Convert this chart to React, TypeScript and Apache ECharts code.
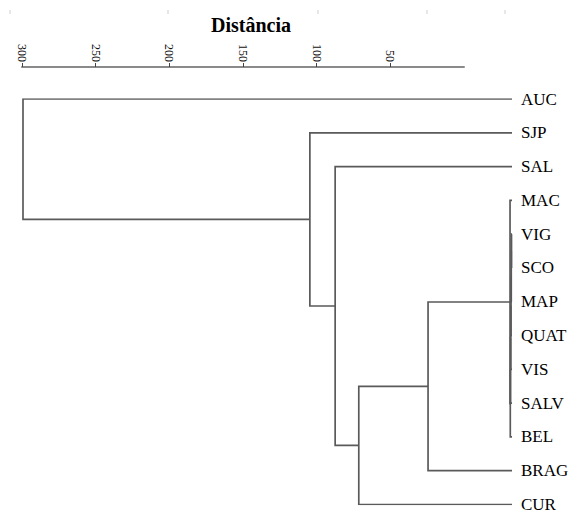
import React, { useEffect, useRef } from "react";
import * as echarts from "echarts";

// Leaves, top to bottom
const leaves = ["AUC", "SJP", "SAL", "MAC", "VIG", "SCO", "MAP", "QUAT", "VIS", "SALV", "BEL", "BRAG", "CUR"];

// Linkage: [childA, childB, height]; indices >= leaves.length refer to earlier merges
const merges: [number, number, number][] = [
  [4, 5, 0.3],
  [13, 6, 0.45],
  [14, 7, 0.6],
  [15, 8, 0.75],
  [16, 9, 0.9],
  [17, 10, 1.05],
  [3, 18, 1.2],
  [19, 11, 51.5],
  [20, 12, 94],
  [2, 21, 108.5],
  [1, 22, 124],
  [0, 23, 300],
];

// Distance axis ticks
const distanceTicks = [50, 100, 150, 200, 250, 300];
const titleText = "Distância";

function buildLinks() {
  const pos: { y: number; h: number }[] = leaves.map((_, i) => ({ y: i, h: 0 }));
  const links: { coords: number[][] }[] = [];
  merges.forEach(([a, b, h]) => {
    const ca = pos[a];
    const cb = pos[b];
    const y = (ca.y + cb.y) / 2;
    links.push({ coords: [[ca.h, ca.y], [h, ca.y], [h, cb.y], [cb.h, cb.y]] });
    pos.push({ y, h });
  });
  return links;
}

export default function App() {
  const ref = useRef<HTMLDivElement>(null);
  useEffect(() => {
    document.body.style.margin = "0";
    if (!ref.current) return;
    const chart = echarts.init(ref.current, null, { renderer: "svg" });
    const serif = "'Liberation Serif', 'Times New Roman', serif";
    const rulerXs = [10, 168, 318, 427, 505];
    chart.setOption({
      animation: false,
      backgroundColor: "#ffffff",
      grid: [
        { left: 23, right: 62, top: 99, bottom: 4 },
        { left: 22, right: 110, top: 66, height: 1 },
      ],
      xAxis: [
        { type: "value", gridIndex: 0, min: 0, max: 300, inverse: true, show: false },
        {
          type: "value",
          gridIndex: 1,
          position: "top",
          min: 0,
          max: 300,
          interval: 50,
          inverse: true,
          axisLine: { show: true, lineStyle: { color: "#8a8a8a", width: 2 } },
          axisTick: { show: true, customValues: distanceTicks, length: 4, lineStyle: { color: "#444", width: 1 } },
          axisLabel: {
            customValues: distanceTicks,
            rotate: -90,
            fontSize: 12,
            fontFamily: serif,
            color: "#111",
            margin: 4,
          },
          splitLine: { show: false },
        },
      ],
      yAxis: [
        { type: "value", gridIndex: 0, min: 0, max: leaves.length - 1, inverse: true, show: false },
        {
          type: "category",
          gridIndex: 0,
          position: "right",
          data: leaves,
          boundaryGap: false,
          inverse: true,
          axisLine: { show: false },
          axisTick: { show: false },
          axisLabel: { margin: 9, fontSize: 17, fontFamily: serif, color: "#000" },
          splitLine: { show: false },
        },
        { type: "value", gridIndex: 1, show: false },
      ],
      graphic: [
        {
          type: "text",
          x: 251,
          y: 25,
          style: {
            text: titleText,
            fill: "#000",
            font: "bold 20px " + serif,
            textAlign: "center",
            textVerticalAlign: "middle",
          },
        },
        ...rulerXs.map((x) => ({
          type: "line",
          shape: { x1: x, y1: 10, x2: x, y2: 14 },
          style: { stroke: "#cfcfcf", lineWidth: 1 },
        })),
      ],
      series: [
        {
          type: "lines",
          coordinateSystem: "cartesian2d",
          xAxisIndex: 0,
          yAxisIndex: 0,
          polyline: true,
          silent: true,
          lineStyle: { color: "#5a5a5a", width: 1.7, opacity: 1 },
          data: buildLinks(),
        },
      ],
    });
    return () => chart.dispose();
  }, []);
  return <div ref={ref} style={{ width: 574, height: 513 }} />;
}
